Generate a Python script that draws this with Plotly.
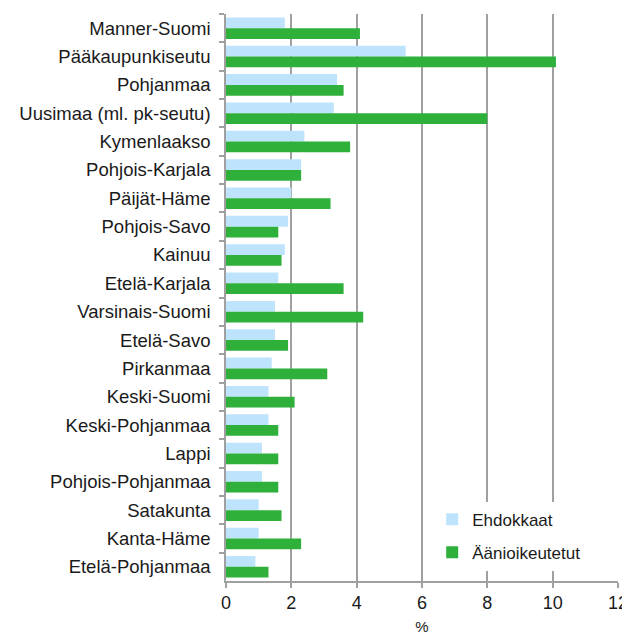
import plotly.graph_objects as go

regions = ["Manner-Suomi", "Pääkaupunkiseutu", "Pohjanmaa", "Uusimaa (ml. pk-seutu)",
           "Kymenlaakso", "Pohjois-Karjala", "Päijät-Häme", "Pohjois-Savo", "Kainuu",
           "Etelä-Karjala", "Varsinais-Suomi", "Etelä-Savo", "Pirkanmaa", "Keski-Suomi",
           "Keski-Pohjanmaa", "Lappi", "Pohjois-Pohjanmaa", "Satakunta", "Kanta-Häme",
           "Etelä-Pohjanmaa"]
ehdokkaat = [1.8, 5.5, 3.4, 3.3, 2.4, 2.3, 2.0, 1.9, 1.8, 1.6, 1.5, 1.5, 1.4, 1.3,
             1.3, 1.1, 1.1, 1.0, 1.0, 0.9]
aanioikeutetut = [4.1, 10.1, 3.6, 8.0, 3.8, 2.3, 3.2, 1.6, 1.7, 3.6, 4.2, 1.9, 3.1, 2.1,
                  1.6, 1.6, 1.6, 1.7, 2.3, 1.3]
x_ticks = [0, 2, 4, 6, 8, 10, 12]

FONT = "Liberation Sans, Arial, sans-serif"

fig = go.Figure()
fig.add_trace(go.Bar(y=regions, x=ehdokkaat, orientation="h", name="Ehdokkaat",
                     marker=dict(color="#bde4fc", line=dict(width=0)),
                     legendgroup="a"))
fig.add_trace(go.Bar(y=regions, x=aanioikeutetut, orientation="h", name="Äänioikeutetut",
                     marker=dict(color="#2eb03a", line=dict(width=0)),
                     legendgroup="b"))

fig.update_layout(
    width=630, height=635,
    margin=dict(l=218, r=20, t=6, b=62),
    paper_bgcolor="white", plot_bgcolor="white",
    barmode="group", bargap=0.24, bargroupgap=0,
    font=dict(family=FONT, size=18, color="#1a1a1a"),
    showlegend=True,
    legend=dict(x=0.526, y=0.14, xanchor="left", yanchor="top",
                bgcolor="white", borderwidth=0,
                font=dict(size=17, family=FONT, color="#1a1a1a"),
                traceorder="grouped", tracegroupgap=8,
                itemwidth=30),
    xaxis=dict(range=[0, 12], tickvals=x_ticks, showgrid=True, automargin=False,
               gridcolor="#a0a0a0", gridwidth=1.5,
               showline=True, linecolor="#a0a0a0", linewidth=1.5,
               ticks="outside", ticklen=5, tickcolor="#a0a0a0", tickwidth=1.5,
               tickfont=dict(size=18), zeroline=False,
               title=dict(text="%", font=dict(size=15), standoff=9)),
    yaxis=dict(autorange="reversed", showgrid=False, automargin=False,
               showline=True, linecolor="#a0a0a0", linewidth=1.5,
               ticks="outside", ticklen=5, tickcolor="#a0a0a0", tickwidth=1.5,
               tickson="boundaries", tickfont=dict(size=18.5), ticklabelstandoff=10),
)

fig.write_html("out.html")
